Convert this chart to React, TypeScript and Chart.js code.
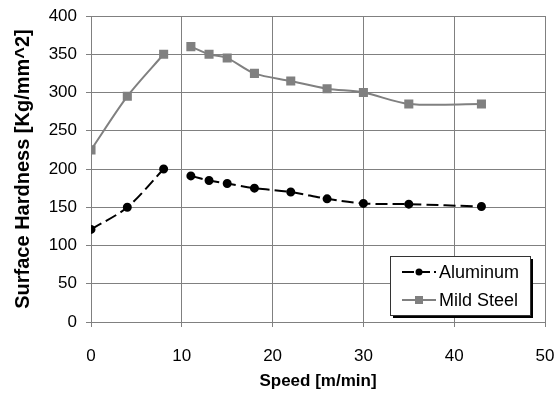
import React, { useEffect, useRef } from "react";
import { Chart, registerables } from "chart.js";

Chart.register(...registerables);

const speeds = [0, 4, 8, 9.5, 11, 13, 15, 18, 22, 26, 30, 35, 43];
const aluminum = [121, 150, 200, null, 191, 185, 181, 175, 170, 161, 155, 154, 151];
const mildSteel = [225, 295, 350, null, 360, 350, 345, 325, 315, 305, 300, 285, 285];
const seriesNames = ["Aluminum", "Mild Steel"];
const xTitle = "Speed [m/min]";
const yTitle = "Surface Hardness [Kg/mm^2]";

const FONT = "'Liberation Sans', Arial, sans-serif";

const legendPlugin = {
  id: "boxLegend",
  afterDraw(chart: any) {
    const ctx = chart.ctx;
    const area = chart.chartArea;
    const x0 = area.right - 155;
    const y0 = area.bottom - 66;
    const w = 140;
    const h = 59;
    ctx.save();
    ctx.fillStyle = "#000";
    ctx.fillRect(x0 + 3, y0 + 3, w, h);
    ctx.fillStyle = "#fff";
    ctx.fillRect(x0, y0, w, h);
    ctx.strokeStyle = "#333";
    ctx.lineWidth = 1;
    ctx.strokeRect(x0 + 0.5, y0 + 0.5, w, h);
    const rows = [y0 + 16, y0 + 44];
    const styles = [
      { color: "#000", dash: [12, 4], point: "circle" },
      { color: "#808080", dash: [], point: "rect" },
    ];
    rows.forEach((ry, i) => {
      const s = styles[i];
      ctx.strokeStyle = s.color;
      ctx.lineWidth = 2;
      ctx.setLineDash(s.dash);
      ctx.beginPath();
      ctx.moveTo(x0 + 12, ry);
      ctx.lineTo(x0 + 46, ry);
      ctx.stroke();
      ctx.setLineDash([]);
      ctx.fillStyle = s.color;
      if (s.point === "circle") {
        ctx.beginPath();
        ctx.arc(x0 + 29, ry, 3.5, 0, Math.PI * 2);
        ctx.fill();
      } else {
        ctx.fillRect(x0 + 25, ry - 4, 8, 8);
      }
      ctx.fillStyle = "#000";
      ctx.font = `18px ${FONT}`;
      ctx.textBaseline = "middle";
      ctx.textAlign = "left";
      ctx.fillText(seriesNames[i], x0 + 49, ry + 1);
    });
    ctx.restore();
  },
};

export default function App() {
  const ref = useRef<HTMLCanvasElement | null>(null);
  useEffect(() => {
    if (!ref.current) return;
    const chart = new Chart(ref.current, {
      type: "scatter",
      data: {
        datasets: [
          {
            label: seriesNames[0],
            data: speeds.map((x, i) => ({ x, y: aluminum[i] })),
            showLine: true,
            borderColor: "#000",
            backgroundColor: "#000",
            borderWidth: 2,
            borderDash: [12, 5],
            pointStyle: "circle",
            pointRadius: 3.5,
            tension: 0.3,
            spanGaps: false,
          },
          {
            label: seriesNames[1],
            data: speeds.map((x, i) => ({ x, y: mildSteel[i] })),
            showLine: true,
            borderColor: "#808080",
            backgroundColor: "#808080",
            borderWidth: 2,
            pointStyle: "rect",
            pointRadius: 5,
            tension: 0.3,
            spanGaps: false,
          },
        ],
      },
      options: {
        animation: false,
        responsive: false,
        layout: { padding: { left: 0, top: 16, right: 15, bottom: 0 } },
        plugins: { legend: { display: false }, tooltip: { enabled: false } },
        scales: {
          x: {
            type: "linear",
            min: 0,
            max: 50,
            ticks: { stepSize: 10, color: "#000", font: { family: FONT, size: 17 }, padding: 19 },
            grid: { color: "#808080", lineWidth: 1, tickLength: 5 },
            border: { color: "#808080" },
            title: { display: true, text: xTitle, color: "#000", font: { family: FONT, size: 17, weight: "bold" }, padding: { top: 4, bottom: 4 } },
            afterFit: (s: any) => {
              s.height = 74;
              s.paddingLeft = 0;
              s.paddingRight = 0;
            },
          },
          y: {
            min: 0,
            max: 400,
            ticks: { stepSize: 50, color: "#000", font: { family: FONT, size: 17 }, padding: 9 },
            grid: { color: "#808080", lineWidth: 1, tickLength: 5 },
            border: { color: "#808080" },
            title: { display: true, text: yTitle, color: "#000", font: { family: FONT, size: 20, weight: "bold" }, padding: { top: 11, bottom: 4 } },
            afterFit: (s: any) => {
              s.width = 91;
              s.paddingTop = 0;
              s.paddingBottom = 0;
            },
          },
        },
      } as any,
      plugins: [legendPlugin],
    });
    return () => chart.destroy();
  }, []);
  return (
    <div style={{ position: "absolute", left: 0, top: 0, width: 560, height: 396, background: "#fff" }}>
      <canvas ref={ref} width={560} height={396} />
    </div>
  );
}
